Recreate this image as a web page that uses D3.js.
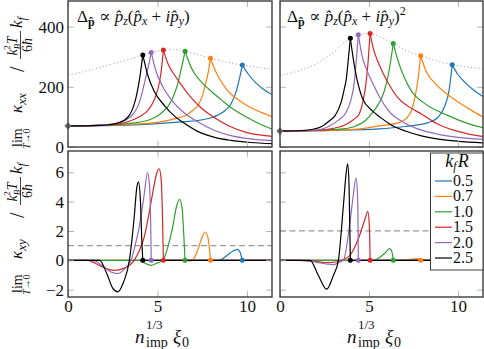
<!DOCTYPE html>
<html>
<head>
<meta charset="UTF-8">
<script src="https://d3js.org/d3.v7.min.js"></script>
<style>
  body { margin: 0; background: #fff; }
  svg text { font-family: "Liberation Serif", "DejaVu Serif", serif; fill: #111; }
</style>
</head>
<body>
<div class="canvas"></div>
<script>
// legend categories and colours
const kfR = ["0.5", "0.7", "1.0", "1.5", "2.0", "2.5"];
const colors = ["#1f77b4", "#ff7f0e", "#2ca02c", "#d62728", "#9467bd", "#000000"];

// x of the cusp / marker of every curve, left and right column
const peaksLeft = [9.74, 7.96, 6.54, 5.33, 4.65, 4.18];
const peaksRight = [9.67, 7.9, 6.36, 5.06, 4.4, 3.95];

// kappa_xx at zero impurity (grey diamond) and dashed kappa_xy level
const baseLeft = 70, baseRight = 53;
const dashLeft = 1, dashRight = 2;

const xTicks = [0, 5, 10];
const yTicksTop = [0, 200, 400];
const yTicksBottom = [-2, 0, 2, 4, 6];

// dotted envelope through the peaks
const envLeft = [[0, 238], [1, 252], [2, 268], [3, 284], [4.18, 306], [4.65, 314], [5.33, 322], [5.9, 325], [6.54, 318], [7.2, 308], [7.96, 295], [8.8, 283], [9.74, 272], [10.5, 265], [11.4, 258]];
const envRight = [[0, 237], [1, 252], [2, 275], [3, 315], [3.95, 361], [4.4, 373], [5.06, 377], [5.6, 366], [6.36, 344], [7.0, 323], [7.9, 303], [8.8, 286], [9.67, 273], [10.5, 266], [11.4, 260]];

// kappa_xx, p_z(p_x + i p_y)
const kxxLeft = [
  [[0, 70], [2, 71], [4, 74], [5.4, 79], [6.5, 84], [7.24, 88], [8.0, 97], [8.35, 105], [8.8, 122], [9.1, 142], [9.4, 185], [9.6, 232], [9.74, 272], [10.1, 240], [10.5, 213], [10.9, 193], [11.4, 174]],
  [[0, 70], [2, 72], [3.5, 75], [4.6, 79], [5.39, 86], [6.0, 94], [6.5, 103], [6.9, 118], [7.24, 137], [7.5, 168], [7.7, 212], [7.85, 252], [7.96, 295], [8.3, 245], [8.7, 205], [9.1, 176], [9.6, 154], [10.2, 131], [10.8, 115], [11.4, 101]],
  [[0, 70], [2, 73], [3, 76], [3.7, 80], [4.63, 92], [5.0, 103], [5.39, 122], [5.56, 133], [5.85, 163], [6.1, 203], [6.3, 252], [6.54, 318], [6.9, 262], [7.3, 226], [7.6, 207], [8.1, 180], [8.6, 155], [9.1, 131], [9.6, 112], [10.2, 92], [10.8, 74], [11.4, 60]],
  [[0, 70], [1.5, 72], [2.78, 76], [3.3, 83], [3.7, 92], [4.1, 104], [4.44, 120], [4.75, 148], [5.0, 187], [5.2, 248], [5.33, 322], [5.6, 275], [6.0, 235], [6.3, 209], [6.8, 170], [7.4, 132], [8.17, 98], [9.0, 70], [10.0, 48], [10.7, 40], [11.4, 35]],
  [[0, 70], [1.5, 72], [2.5, 76], [3.15, 87], [3.7, 114], [4.0, 150], [4.17, 187], [4.4, 245], [4.55, 283], [4.65, 314], [4.9, 255], [5.3, 200], [5.8, 155], [6.4, 118], [7.24, 84], [8.2, 55], [9.1, 38], [10.2, 27], [11.4, 21]],
  [[0, 70], [1.5, 71], [2.3, 74], [2.8, 80], [3.33, 98], [3.6, 125], [3.8, 164], [4.04, 242], [4.18, 306], [4.45, 240], [4.8, 187], [5.4, 137], [6.0, 100], [6.4, 83], [7.24, 52], [8.2, 32], [9.1, 22], [10.2, 15], [11.4, 11]]
];

// kappa_xx, p_z(p_x + i p_y)^2
const kxxRight = [
  [[0, 53], [3, 55], [5.56, 60], [7, 68], [8.33, 81], [8.9, 100], [9.26, 137], [9.5, 190], [9.67, 273], [10.0, 240], [10.4, 214], [10.9, 188], [11.4, 168]],
  [[0, 53], [3, 55], [4.5, 60], [5.56, 70], [6.67, 81], [7.1, 95], [7.41, 126], [7.6, 172], [7.75, 225], [7.9, 303], [8.2, 252], [8.7, 212], [9.26, 181], [9.8, 158], [10.2, 142], [10.8, 120], [11.4, 100]],
  [[0, 53], [2, 55], [3.5, 60], [4.26, 70], [4.8, 88], [5.19, 114], [5.5, 140], [5.83, 181], [6.1, 245], [6.36, 344], [6.6, 292], [7.0, 228], [7.41, 183], [8.0, 150], [8.6, 127], [9.26, 109], [10.0, 90], [10.7, 75], [11.4, 64]],
  [[0, 53], [2, 55], [3.0, 62], [3.7, 75], [4.1, 90], [4.44, 109], [4.65, 150], [4.81, 203], [4.95, 285], [5.06, 377], [5.25, 325], [5.56, 275], [6.1, 210], [6.6, 165], [7.2, 135], [7.96, 109], [8.8, 78], [9.8, 55], [10.6, 43], [11.4, 35]],
  [[0, 53], [2, 56], [2.78, 70], [3.3, 90], [3.7, 114], [3.95, 150], [4.17, 214], [4.3, 300], [4.4, 373], [4.6, 305], [4.9, 252], [5.19, 214], [5.6, 165], [6.1, 120], [7.0, 80], [8.0, 55], [8.9, 42], [10.0, 32], [11.4, 25]],
  [[0, 53], [1.0, 54], [1.85, 59], [2.4, 70], [2.78, 87], [3.1, 105], [3.43, 148], [3.6, 190], [3.72, 225], [3.85, 300], [3.95, 361], [4.2, 262], [4.63, 162], [5.19, 120], [5.6, 100], [6.2, 75], [7.04, 53], [8.0, 36], [8.9, 26], [10.0, 19], [11.4, 14]]
];

// kappa_xy, p_z(p_x + i p_y)
const kxyLeft = [
  [[0, 0], [8.44, 0], [8.9, 0.34], [9.2, 0.62], [9.46, 0.75], [9.62, 0.55], [9.7, 0.2], [9.74, 0], [11.4, 0]],
  [[0, 0], [6.6, 0], [6.85, -0.04], [7.05, 0.15], [7.25, 0.7], [7.43, 1.36], [7.67, 1.93], [7.82, 1.55], [7.91, 0.7], [7.96, 0], [11.4, 0]],
  [[0, 0], [4.0, 0], [4.3, -0.2], [4.63, -0.34], [4.95, -0.2], [5.3, 0], [5.6, 1.0], [5.85, 2.27], [6.05, 3.6], [6.24, 4.15], [6.38, 3.5], [6.48, 1.5], [6.54, 0], [11.4, 0]],
  [[0, 0], [1.1, 0], [1.6, -0.25], [2.1, -0.55], [2.59, -0.68], [3.1, -0.55], [3.7, 0], [4.0, 0.7], [4.26, 1.59], [4.5, 3.0], [4.72, 4.5], [4.95, 5.9], [5.09, 6.24], [5.2, 5.6], [5.28, 3], [5.33, 0], [11.4, 0]],
  [[0, 0], [1.39, 0], [1.9, -0.35], [2.4, -0.8], [2.78, -0.9], [3.15, -0.6], [3.52, 0], [3.75, 1.0], [3.98, 2.27], [4.26, 4.5], [4.44, 5.97], [4.55, 5.2], [4.62, 2.5], [4.65, 0], [11.4, 0]],
  [[0, 0], [1.76, 0], [2.2, -1.0], [2.5, -1.9], [2.78, -2.15], [3.1, -1.5], [3.43, 0], [3.7, 2.95], [3.85, 5.0], [3.94, 5.33], [4.05, 4.0], [4.12, 1.5], [4.18, 0], [11.4, 0]]
];

// kappa_xy, p_z(p_x + i p_y)^2
const kxyRight = [
  [[0, 0], [11.4, 0]],
  [[0, 0], [6.6, 0], [7.2, 0.05], [7.6, 0.1], [7.75, 0.12], [7.85, 0.05], [7.9, 0], [11.4, 0]],
  [[0, 0], [5.2, 0], [5.6, 0.2], [5.9, 0.5], [6.15, 0.8], [6.28, 0.6], [6.36, 0], [11.4, 0]],
  [[0, 0], [1.1, 0], [1.8, -0.05], [2.81, -0.16], [3.46, 0], [3.93, 0.34], [4.4, 1.47], [4.78, 2.83], [4.93, 3.33], [5.01, 2.5], [5.05, 0.8], [5.06, 0], [11.4, 0]],
  [[0, 0], [1.12, 0], [2.0, -0.12], [3.0, -0.3], [3.3, -0.15], [3.56, 0], [3.93, 2.6], [4.1, 4.3], [4.27, 5.6], [4.35, 4.5], [4.39, 1.5], [4.4, 0], [11.4, 0]],
  [[0, 0], [1.69, 0], [2.15, -1.02], [2.62, -1.97], [3.0, -1.02], [3.28, 0], [3.56, 3.74], [3.72, 6.0], [3.8, 6.58], [3.88, 5.0], [3.93, 1.5], [3.95, 0], [11.4, 0]]
];

const width = 484, height = 349;
const colX = [[68, 272], [280, 483]];
const rowY = [[1, 147], [151, 297]];
const serif = "'Liberation Serif', 'DejaVu Serif', serif";

const svg = d3.select(".canvas").append("svg")
  .attr("width", width).attr("height", height)
  .attr("font-family", serif);

const xs = colX.map(c => d3.scaleLinear().domain([0, 11.4]).range(c));
const yTop = d3.scaleLinear().domain([0, 485]).range([rowY[0][1], rowY[0][0]]);
const yBot = d3.scaleLinear().domain([-2.5, 7.45]).range([rowY[1][1], rowY[1][0]]);

const panels = [
  { col: 0, row: 0, y: yTop, data: kxxLeft, peaks: peaksLeft, env: envLeft, base: baseLeft },
  { col: 1, row: 0, y: yTop, data: kxxRight, peaks: peaksRight, env: envRight, base: baseRight },
  { col: 0, row: 1, y: yBot, data: kxyLeft, peaks: peaksLeft, dash: dashLeft },
  { col: 1, row: 1, y: yBot, data: kxyRight, peaks: peaksRight, dash: dashRight }
];

panels.forEach((p, i) => {
  const x = xs[p.col], y = p.y;
  const [x0, x1] = colX[p.col], [y0, y1] = rowY[p.row];
  const g = svg.append("g");

  svg.append("clipPath").attr("id", "clip" + i)
    .append("rect").attr("x", x0).attr("y", y0).attr("width", x1 - x0).attr("height", y1 - y0);
  const plot = g.append("g").attr("clip-path", `url(#clip${i})`);

  // ticks on all four sides, pointing inward
  const tickStyle = sel => {
    sel.attr("font-family", serif);
    sel.select(".domain").remove();
    sel.selectAll(".tick line").attr("stroke", "#b5b5b5").attr("stroke-width", 1);
    sel.selectAll("text").attr("font-size", 17).attr("fill", "#111");
  };
  const yt = p.row === 0 ? yTicksTop : yTicksBottom;
  g.append("g").attr("transform", `translate(${x0},0)`)
    .call(d3.axisLeft(y).tickValues(yt).tickSize(-6).tickPadding(4)
      .tickFormat(p.col === 0 ? d3.format("") : ""))
    .call(tickStyle);
  g.append("g").attr("transform", `translate(${x1},0)`)
    .call(d3.axisRight(y).tickValues(yt).tickSize(-6).tickFormat("")).call(tickStyle);
  g.append("g").attr("transform", `translate(0,${y0})`)
    .call(d3.axisTop(x).tickValues(xTicks).tickSize(-6).tickFormat("")).call(tickStyle);
  g.append("g").attr("transform", `translate(0,${y1})`)
    .call(d3.axisBottom(x).tickValues(xTicks).tickSize(-6).tickPadding(3)
      .tickFormat(p.row === 1 ? d3.format("") : ""))
    .call(tickStyle);

  const line = d3.line().x(d => x(d[0])).y(d => y(d[1])).curve(d3.curveMonotoneX);

  if (p.env) {
    plot.append("path").attr("d", line(p.env)).attr("fill", "none")
      .attr("stroke", "#a8a8a8").attr("stroke-width", 1).attr("stroke-dasharray", "1.2,2.4");
  }
  if (p.dash != null) {
    plot.append("line").attr("x1", x0).attr("x2", x1)
      .attr("y1", y(p.dash)).attr("y2", y(p.dash))
      .attr("stroke", "#9a9a9a").attr("stroke-width", 1.2).attr("stroke-dasharray", "6,3.5");
  }

  // each curve drawn in two parts so the cusp at the marker stays sharp
  p.data.forEach((pts, k) => {
    const idx = pts.findIndex(d => d[0] === p.peaks[k]);
    const parts = idx > 0 ? [pts.slice(0, idx + 1), pts.slice(idx)] : [pts];
    parts.forEach(part => {
      plot.append("path").attr("d", line(part)).attr("fill", "none")
        .attr("stroke", colors[k]).attr("stroke-width", 1.2);
    });
  });

  p.data.forEach((pts, k) => {
    const pk = pts.find(d => d[0] === p.peaks[k]);
    if (!pk) return;
    plot.append("circle").attr("cx", x(pk[0])).attr("cy", y(pk[1])).attr("r", 2.5)
      .attr("fill", colors[k]);
  });

  if (p.base != null) {
    g.append("path").attr("d", d3.symbol(d3.symbolSquare, 26)())
      .attr("transform", `translate(${x(0)},${y(p.base)}) rotate(45)`)
      .attr("fill", "#6a6a6a");
  }

  g.append("rect").attr("x", x0).attr("y", y0).attr("width", x1 - x0).attr("height", y1 - y0)
    .attr("fill", "none").attr("stroke", "#3c3c3c").attr("stroke-width", 1.4);
});

// panel titles
function title(xPos, square) {
  const t = svg.append("text").attr("x", xPos).attr("y", 22).attr("font-size", 17);
  t.append("tspan").text("Δ");
  t.append("tspan").attr("font-size", 12).attr("font-weight", "bold").attr("dy", 4).text("p\u0302");
  t.append("tspan").attr("dy", -4).text(" ∝ ");
  t.append("tspan").attr("font-style", "italic").text("p\u0302");
  t.append("tspan").attr("font-style", "italic").attr("font-size", 12).attr("dy", 3).text("z");
  t.append("tspan").attr("dy", -3).text("(");
  t.append("tspan").attr("font-style", "italic").text("p\u0302");
  t.append("tspan").attr("font-style", "italic").attr("font-size", 12).attr("dy", 3).text("x");
  t.append("tspan").attr("dy", -3).text(" + ");
  t.append("tspan").attr("font-style", "italic").text("i");
  t.append("tspan").attr("font-style", "italic").text("p\u0302");
  t.append("tspan").attr("font-style", "italic").attr("font-size", 12).attr("dy", 3).text("y");
  t.append("tspan").attr("dy", -3).text(")");
  if (square) t.append("tspan").attr("font-size", 12).attr("dy", -7).text("2");
}
title(77, false);
title(287, true);

// rotated y labels
function yLabel(yBottom, sub) {
  const g = svg.append("g").attr("transform", `translate(22,${yBottom}) rotate(-90)`);
  g.append("text").attr("x", 0).attr("y", 0).attr("font-size", 14).text("lim");
  const tl = g.append("text").attr("x", -2).attr("y", 8).attr("font-size", 10);
  tl.append("tspan").attr("font-style", "italic").text("T");
  tl.append("tspan").text("→0");
  const k = g.append("text").attr("x", 34).attr("y", 0).attr("font-size", 17);
  k.append("tspan").attr("font-style", "italic").text("κ");
  k.append("tspan").attr("font-style", "italic").attr("font-size", 13).attr("dy", 4).text(sub);
  g.append("text").attr("x", 75).attr("y", 2).attr("font-size", 20).text("/");
  const num = g.append("text").attr("x", 101).attr("y", -5).attr("font-size", 14)
    .attr("text-anchor", "middle");
  num.append("tspan").attr("font-style", "italic").text("k");
  num.append("tspan").attr("font-style", "italic").attr("font-size", 9).attr("dy", 3).text("B");
  num.append("tspan").attr("font-size", 9).attr("dx", -6).attr("dy", -10).text("2");
  num.append("tspan").attr("font-style", "italic").attr("dy", 7).attr("dx", 1).text("T");
  g.append("line").attr("x1", 88).attr("x2", 116).attr("y1", -1.5).attr("y2", -1.5)
    .attr("stroke", "#111").attr("stroke-width", 0.8);
  const den = g.append("text").attr("x", 102).attr("y", 10).attr("font-size", 14)
    .attr("text-anchor", "middle");
  den.append("tspan").text("6");
  den.append("tspan").attr("font-style", "italic").text("ħ");
  const kf = g.append("text").attr("x", 119).attr("y", 0).attr("font-size", 17);
  kf.append("tspan").attr("font-style", "italic").text("k");
  kf.append("tspan").attr("font-style", "italic").attr("font-size", 12).attr("dy", 4).text("f");
}
yLabel(147, "xx");
yLabel(293, "xy");

// x labels
function xLabel(xPos) {
  const g = svg.append("g").attr("transform", `translate(${xPos},0)`);
  g.append("text").attr("x", 0).attr("y", 343).attr("font-size", 19).attr("font-style", "italic").text("n");
  g.append("text").attr("x", 11).attr("y", 329).attr("font-size", 13).text("1/3");
  g.append("text").attr("x", 11).attr("y", 347).attr("font-size", 14).text("imp");
  g.append("text").attr("x", 38).attr("y", 343).attr("font-size", 19).attr("font-style", "italic").text("ξ");
  g.append("text").attr("x", 47).attr("y", 347).attr("font-size", 14).text("0");
}
xLabel(135);
xLabel(347);

// legend
const lg = svg.append("g");
lg.append("rect").attr("x", 430.5).attr("y", 153).attr("width", 52.5).attr("height", 117)
  .attr("fill", "#fff").attr("stroke", "#3c3c3c").attr("stroke-width", 1);
const lt = lg.append("text").attr("x", 457).attr("y", 167).attr("font-size", 18)
  .attr("text-anchor", "middle");
lt.append("tspan").attr("font-style", "italic").text("k");
lt.append("tspan").attr("font-style", "italic").attr("font-size", 12).attr("dy", 3).text("f");
lt.append("tspan").attr("font-style", "italic").attr("dy", -3).attr("dx", 1).text("R");
kfR.forEach((lab, k) => {
  const yy = 181 + k * 15.4;
  lg.append("line").attr("x1", 435).attr("x2", 452).attr("y1", yy).attr("y2", yy)
    .attr("stroke", colors[k]).attr("stroke-width", 1.2);
  lg.append("text").attr("x", 453).attr("y", yy + 5).attr("font-size", 16).text(lab);
});
</script>
</body>
</html>
